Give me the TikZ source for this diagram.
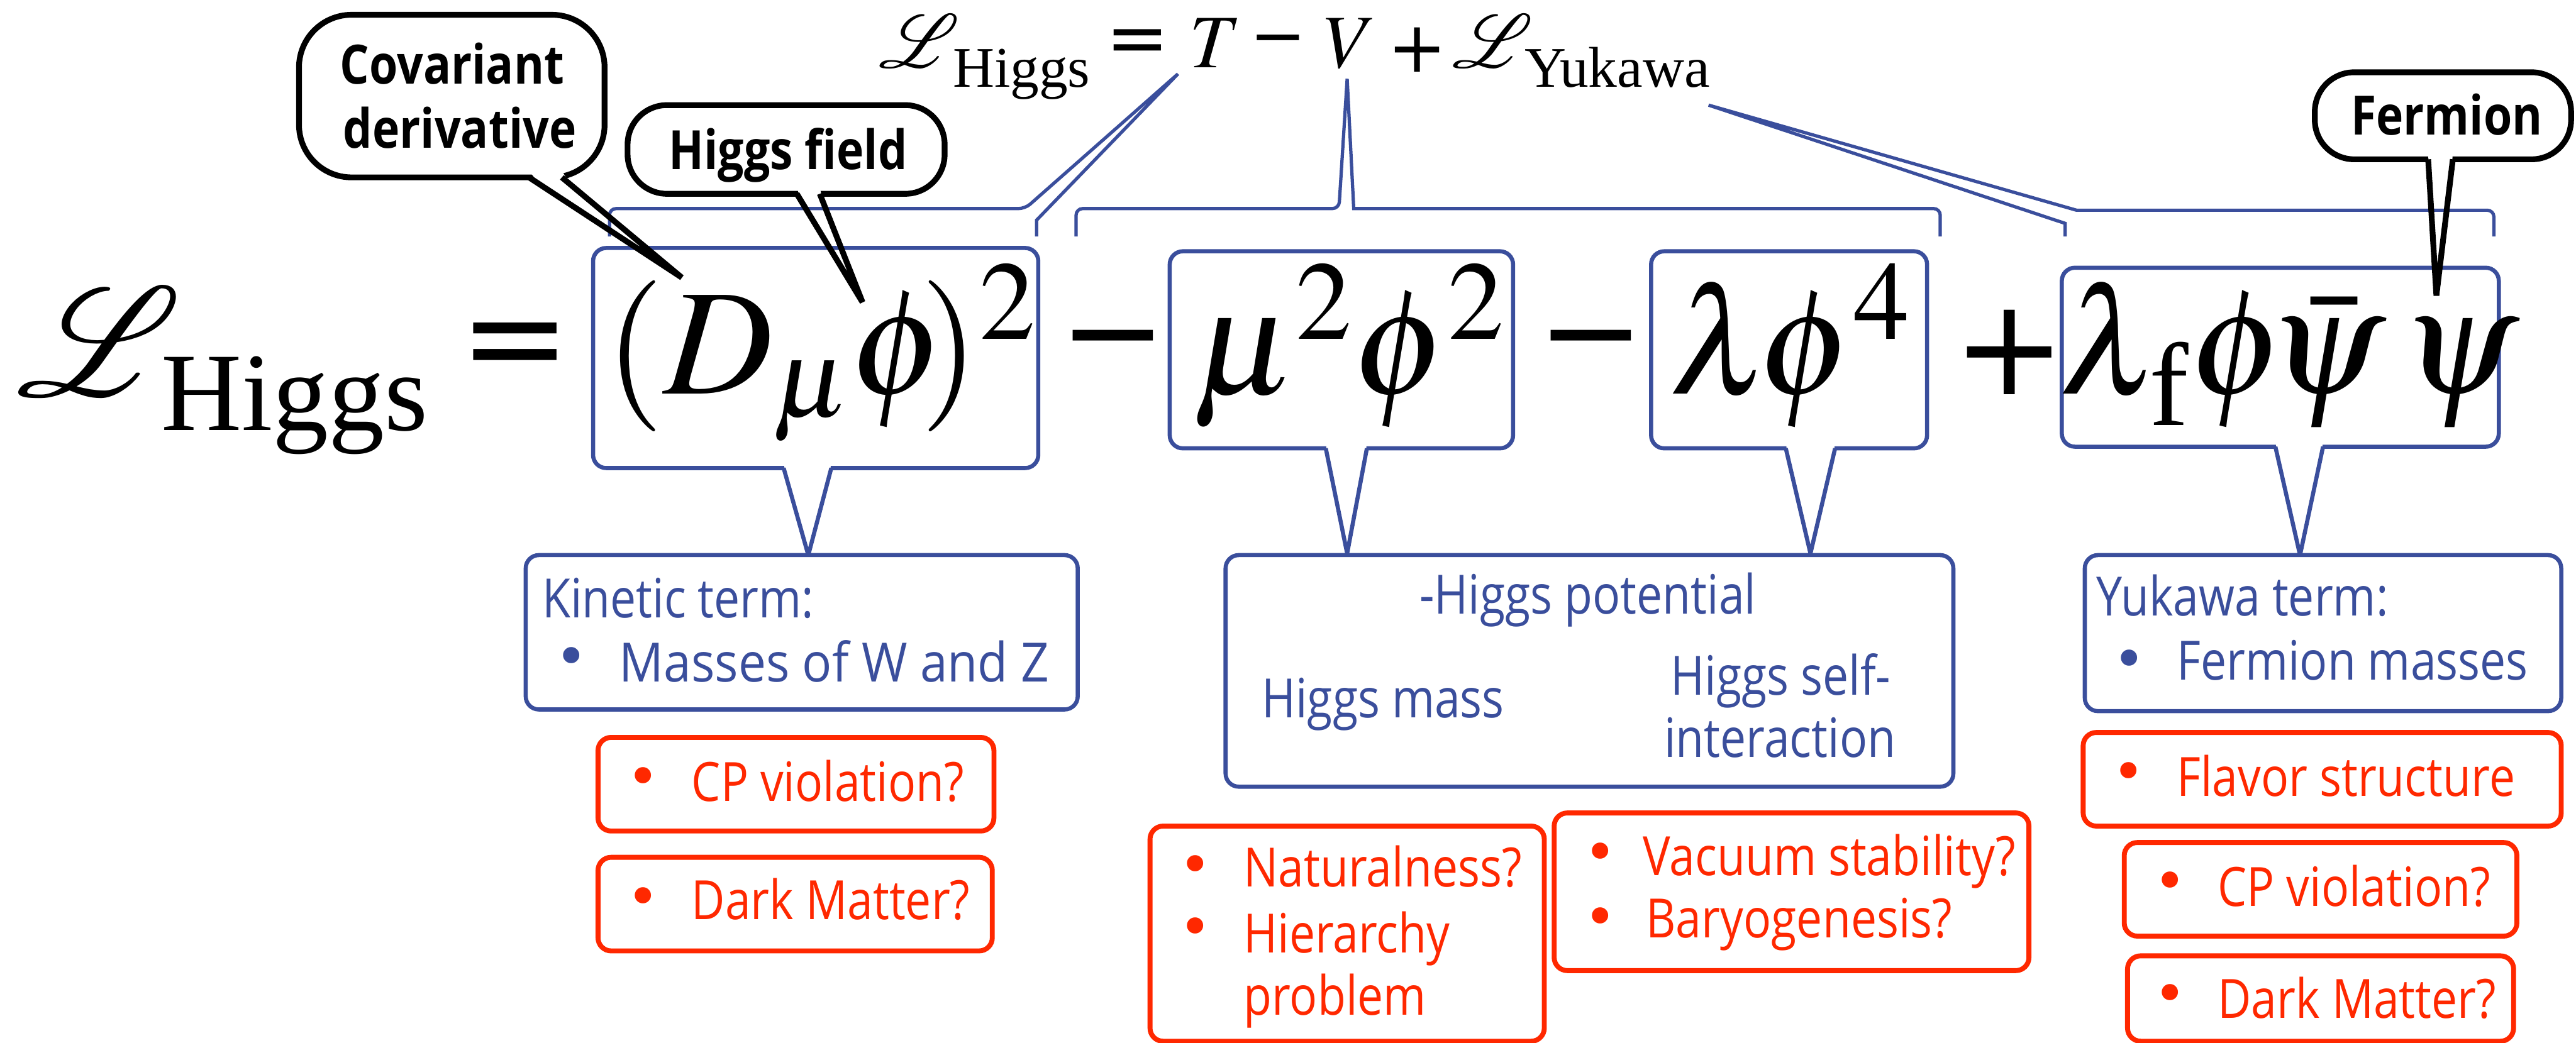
\documentclass[tikz,border=0pt]{standalone}
\usepackage{graphicx}
\usepackage{mathptmx}
\usepackage{mathrsfs}
\usepackage[no-math]{fontspec}
\setmainfont{Liberation Serif}
\newfontfamily\gill{Open Sans}[FakeStretch=0.85]
\newfontfamily\bulf{DejaVu Sans}
\newfontfamily\opf{DejaVu Sans}
\usetikzlibrary{fit,calc}
\definecolor{kblue}{RGB}{58,78,156}
\definecolor{kred}{RGB}{255,40,0}
\newcommand\scrL[1]{\scalebox{#1}{\fontsize{10}{12}\selectfont$\mathscr{L}$}}
\tikzset{
  every node/.style={inner sep=0pt, outer sep=0pt},
  bbox/.style={draw=kblue, line width=2.5pt, rounded corners=8pt, fill=white},
  rbox/.style={draw=kred, line width=3pt, rounded corners=8pt, fill=white},
  kbub/.style={draw=black, line width=3.5pt, fill=white},
  bline/.style={draw=kblue, line width=2pt},
  tline/.style={draw=kblue, line width=2.5pt},
  kline/.style={draw=black, line width=3.5pt},
  btxt/.style={text=kblue, font=\gill\fontsize{33}{40}\selectfont},
  rtxt/.style={text=kred, font=\gill\fontsize{33}{40}\selectfont},
  bbul/.style={text=kblue, font=\bulf\fontsize{34}{34}\selectfont},
  rbul/.style={text=kred, font=\bulf\fontsize{34}{34}\selectfont},
  ktxt/.style={text=black, font=\gill\bfseries\fontsize{33}{40}\selectfont},
  bigmath/.style={font=\fontsize{92}{100}\selectfont},
  topmath/.style={font=\fontsize{46}{50}\selectfont},
}
\newcommand\calltail[4]{%
  \fill[white] ($#2+(0,-4)$) -- ($#3+(0,-4)$) -- ($#3!0.07!#4$) -- ($#2!0.07!#4$) -- cycle;
  \draw[#1] #2 -- #4 -- #3;}
\begin{document}
\begin{tikzpicture}[x=1pt,y=-1pt]
\useasboundingbox[fill=white] (0,0) rectangle (1568,635);

% ---------- top formula ----------
\node[anchor=base west] (tL) at (535,41) {\scrL{4.6}};
\node[anchor=base west, font=\fontsize{35}{40}\selectfont] (tH) at (580,53) {Higgs};
\node[font=\opf\fontsize{46}{46}\selectfont] (tEq) at (692.5,28.5) {=};
\node[topmath, anchor=base west] (tT) at (724,41) {$T$};
\node[font=\opf\fontsize{41}{41}\selectfont] (tMin) at (778,28.5) {−};
\node[topmath, anchor=base west] (tV) at (806,41) {$V$};
\node[font=\opf\fontsize{43}{43}\selectfont] (tPlus) at (862.5,30.5) {+};
\node[anchor=base west] (tLY) at (884,41) {\scrL{4.6}};
\node[anchor=base west, font=\fontsize{35}{40}\selectfont] (tY) at (928,53) {Yukawa};

% ---------- bracket callouts ----------
\coordinate (tipT) at (717,45);
\coordinate (tipV) at (820,48);
\coordinate (tipY) at (1040,64);
\draw[bline] (371,144) [rounded corners=4pt] -- (371,127) -- (624,127) [sharp corners] -- (tipT) -- (631,134) -- (631,144);
\draw[bline] (655,144) [rounded corners=4pt] -- (655,127) -- (815,127) [sharp corners] -- (tipV) -- (824,127) [rounded corners=4pt] -- (1181,127) -- (1181,144);
\draw[bline] (1257,144) -- (1257,136) -- (tipY) -- (1264,128) [rounded corners=4pt] -- (1518,128) -- (1518,144);

% ---------- main formula ----------
\node[anchor=base west] (mL) at (10,241) {\scrL{9.4}};
\node[anchor=base west, font=\fontsize{68}{70}\selectfont] (mH) at (98,262) {Higgs};
\node[font=\opf\fontsize{81}{81}\selectfont] (mEq) at (313.5,215) {=};

\node[bbox, fit={(361,151)(632,285)}] (box1) {};
\node[bbox, fit={(712,153)(921,273)}] (box2) {};
\node[bbox, fit={(1005,153)(1173,273)}] (box3) {};
\node[bbox, fit={(1255,163)(1521,272)}] (box4) {};

\node[bigmath, anchor=base] (f1) at (499.5,240) {$(D_\mu\phi\mkern-3mu)^2$};
\node[font=\opf\fontsize{78}{78}\selectfont] (mMin1) at (677.5,215) {−};
\node[bigmath, anchor=base] (f2) at (821,240) {$\mu^2\phi^2$};
\node[font=\opf\fontsize{78}{78}\selectfont] (mMin2) at (968.5,215) {−};
\node[bigmath, anchor=base] (f3) at (1089.5,240) {$\lambda\mkern-1.5mu\phi^4$};
\node[font=\opf\fontsize{82}{82}\selectfont] (mPlus) at (1223,214.5) {+};
\node[bigmath, anchor=base] (f4) at (1393,240) {$\lambda_{\hbox{\kern4pt\fontsize{72}{72}\selectfont f}}\phi\mkern-2mu\bar\psi\mkern2mu\psi$};

% ---------- tails of the term boxes ----------
\coordinate (k1) at (492,338);
\coordinate (k2) at (820,337);
\coordinate (k3) at (1102,337);
\coordinate (k4) at (1400,338);
\calltail{tline}{(477,285)}{(506,285)}{(k1)}
\calltail{tline}{(807,273)}{(832,273)}{(k2)}
\calltail{tline}{(1087,273)}{(1117,273)}{(k3)}
\calltail{tline}{(1385,272)}{(1414,272)}{(k4)}

% ---------- explanation boxes ----------
\node[bbox, fit={(320,338)(656,432)}] (kin) {};
\node[bbox, fit={(746,338)(1189,479)}] (pot) {};
\node[bbox, fit={(1269,338)(1559,433)}] (yuk) {};

\node[btxt, anchor=base west] (kinT) at (330,376) {Kinetic term:};
\node[bbul] (kinB) at (348,403) {•};
\node[btxt, anchor=base west] (kinM) at (377,415) {\scalebox{1.07}[1]{Masses of W and Z}};
\node[btxt, anchor=base west] (potT) at (864,374) {-Higgs potential};
\node[btxt, anchor=base west] (potM) at (768,437) {Higgs mass};
\node[btxt, anchor=base west] (potS1) at (1017,423) {Higgs self-};
\node[btxt, anchor=base west] (potS2) at (1013,461) {interaction};
\node[btxt, anchor=base west] (yukT) at (1276,375) {Yukawa term:};
\node[bbul] (yukB) at (1296,404.5) {•};
\node[btxt, anchor=base west] (yukM) at (1325,414) {Fermion masses};

% ---------- open questions ----------
\node[rbox, fit={(364,449)(605,506)}] (cp1) {};
\node[rbox, fit={(364,522)(604,579)}] (dm1) {};
\node[rbox, fit={(700,503)(940,634)}] (nat) {};
\node[rbox, fit={(946,495)(1235,591)}] (vac) {};
\node[rbox, fit={(1268,446)(1559,503)}] (flav) {};
\node[rbox, fit={(1293,513)(1532,570)}] (cp2) {};
\node[rbox, fit={(1295,582)(1530,634)}] (dm2) {};

\node[rbul] (cp1b) at (391.5,476) {•};
\node[rtxt, anchor=base west] (cp1t) at (421,488) {CP violation?};
\node[rbul] (dm1b) at (391.5,549) {•};
\node[rtxt, anchor=base west] (dm1t) at (421,560) {Dark Matter?};
\node[rbul] (natb1) at (727.5,529.5) {•};
\node[rbul] (natb2) at (727.5,567.5) {•};
\node[rtxt, anchor=base west] (natt1) at (757,540) {Naturalness?};
\node[rtxt, anchor=base west] (natt2) at (757,580) {Hierarchy};
\node[rtxt, anchor=base west] (natt3) at (757,618) {problem};
\node[rbul] (vacb1) at (974,522) {•};
\node[rbul] (vacb2) at (974,561.5) {•};
\node[rtxt, anchor=base west] (vact1) at (1000,533) {Vacuum stability?};
\node[rtxt, anchor=base west] (vact2) at (1002,571) {Baryogenesis?};
\node[rbul] (flavb) at (1295.5,473) {•};
\node[rtxt, anchor=base west] (flavt) at (1325,485) {Flavor structure};
\node[rbul] (cp2b) at (1321,539.5) {•};
\node[rtxt, anchor=base west] (cp2t) at (1350,552) {CP violation?};
\node[rbul] (dm2b) at (1321,608) {•};
\node[rtxt, anchor=base west] (dm2t) at (1350,620) {Dark Matter?};

% ---------- black speech bubbles ----------
\node[kbub, rounded corners=32pt, fit={(182,9)(368,108)}] (covB) {};
\node[kbub, rounded corners=24pt, fit={(382,64)(575,118)}] (hfB) {};
\node[kbub, rounded corners=24pt, fit={(1409,44)(1565,97)}] (ferB) {};
\coordinate (covTip) at (415,169);
\coordinate (hfTip) at (525,184);
\coordinate (ferTip) at (1483,180);
\calltail{kline}{(322,108)}{(342,108)}{(covTip)}
\calltail{kline}{(485,118)}{(499,118)}{(hfTip)}
\calltail{kline}{(1478,97)}{(1493,97)}{(ferTip)}
\node[ktxt, anchor=base west] (covT1) at (207,51) {Covariant};
\node[ktxt, anchor=base west] (covT2) at (209,90) {derivative};
\node[ktxt, anchor=base west] (hfT) at (407,103) {Higgs field};
\node[ktxt, anchor=base west] (ferT) at (1431,82) {Fermion};
\end{tikzpicture}
\end{document}
